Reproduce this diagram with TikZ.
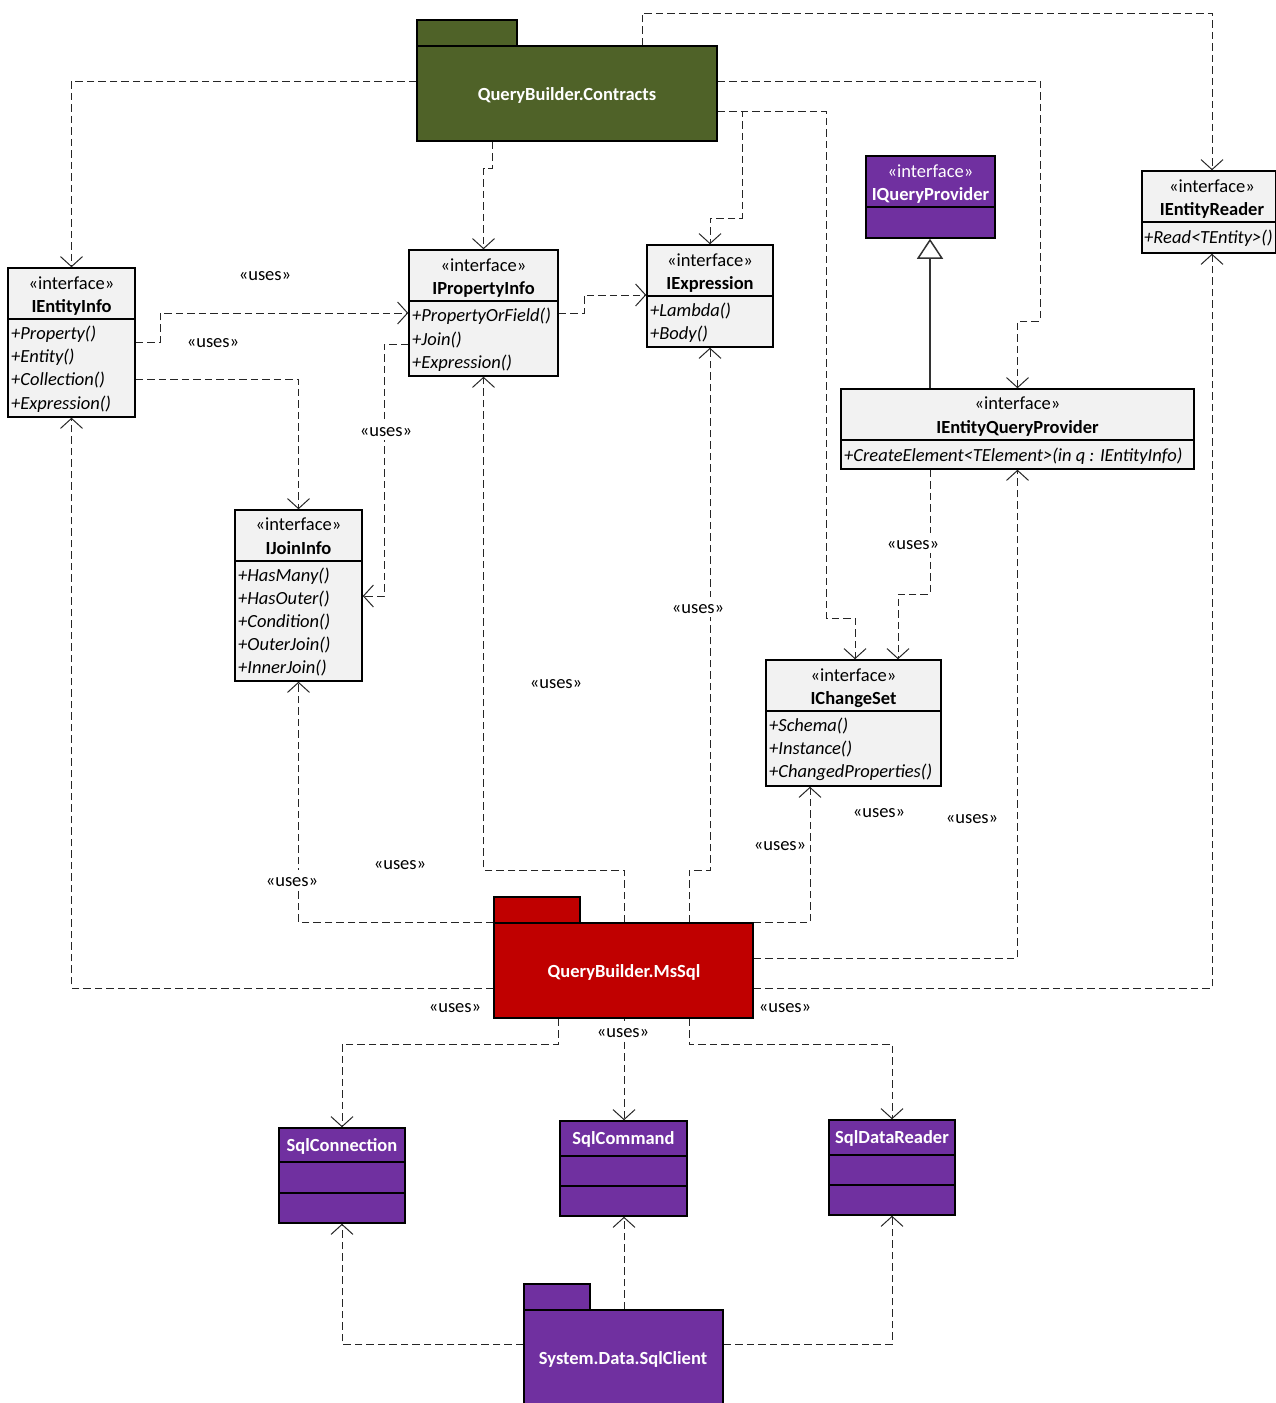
\documentclass[tikz,border=0pt]{standalone}
\usepackage{fontspec}
\setmainfont{Carlito}
\usetikzlibrary{arrows.meta}
\definecolor{pkggreen}{HTML}{4F6228}
\definecolor{pkgred}{HTML}{C00000}
\definecolor{ipurple}{HTML}{7030A0}
\definecolor{boxgrey}{HTML}{F2F2F2}
\begin{document}
\begin{tikzpicture}[x=1pt,y=-1pt,
  cbox/.style={draw=black, line width=1.5pt, fill=boxgrey, inner sep=0pt},
  pbox/.style={cbox, fill=ipurple},
  txt/.style={inner sep=0pt, text height=15.5pt, text depth=2.5pt, font=\fontsize{18.5}{22}\selectfont},
  cname/.style={txt, font=\fontsize{18.5}{22}\selectfont\bfseries},
  wname/.style={cname, text=white},
  wstereo/.style={txt, text=white},
  meth/.style={txt, anchor=west, font=\fontsize{18.5}{22}\selectfont\itshape},
  divl/.style={line width=1.5pt},
  dep/.style={draw=black!85, line width=1pt, dash pattern=on 7.5pt off 4pt, -{Straight Barb[length=10pt,width=22pt,line width=1pt]}},
  gen/.style={draw=black!80, line width=1.2pt, -{Triangle[open,length=20pt,width=26pt,fill=white,line width=1.5pt]}},
  uses/.style={txt, fill=white, inner sep=1pt}
]
\useasboundingbox (0,0) rectangle (1276,1403);

% ---------- packages ----------
\node[cbox, fill=pkggreen, minimum width=100pt, minimum height=26pt] (conttab) at (467,33) {};
\node[cbox, fill=pkggreen, minimum width=300pt, minimum height=95pt] (cont) at (567,93.5) {};
\node[wname] (contT) at (567,94) {QueryBuilder.Contracts};

\node[cbox, fill=pkgred, minimum width=86pt, minimum height=26pt] (mstab) at (537,910) {};
\node[cbox, fill=pkgred, minimum width=259pt, minimum height=95pt] (ms) at (623.5,970.5) {};
\node[wname] (msT) at (624,971) {QueryBuilder.MsSql};

\node[cbox, fill=ipurple, minimum width=66pt, minimum height=26pt] (sqltab) at (557,1297) {};
\node[cbox, fill=ipurple, minimum width=199pt, minimum height=110pt] (sql) at (623.5,1365) {};
\node[wname] (sqlT) at (623,1358) {System.Data.SqlClient};

% ---------- IEntityInfo ----------
\node[cbox, minimum width=127pt, minimum height=149pt] (ei) at (71.5,342.5) {};
\draw[divl] (ei.west |- 0,319) -- (ei.east |- 0,319);
\node[txt] (eiS) at (71.5,283) {«interface»};
\node[cname] (eiN) at (71.5,306) {IEntityInfo};
\node[meth] (eiM1) at (11,333) {+Property()};
\node[meth] (eiM2) at (11,356) {+Entity()};
\node[meth] (eiM3) at (11,379) {+Collection()};
\node[meth] (eiM4) at (11,403) {+Expression()};

% ---------- IPropertyInfo ----------
\node[cbox, minimum width=149pt, minimum height=126pt] (pi) at (483.5,313) {};
\draw[divl] (pi.west |- 0,301) -- (pi.east |- 0,301);
\node[txt] (piS) at (483.5,265) {«interface»};
\node[cname] (piN) at (483.5,288) {IPropertyInfo};
\node[meth] (piM1) at (412,315) {+PropertyOrField()};
\node[meth] (piM2) at (412,339) {+Join()};
\node[meth] (piM3) at (412,362) {+Expression()};

% ---------- IExpression ----------
\node[cbox, minimum width=126pt, minimum height=102pt] (ie) at (710,296) {};
\draw[divl] (ie.west |- 0,296) -- (ie.east |- 0,296);
\node[txt] (ieS) at (710,260) {«interface»};
\node[cname] (ieN) at (710,283) {IExpression};
\node[meth] (ieM1) at (650,310) {+Lambda()};
\node[meth] (ieM2) at (650,333) {+Body()};

% ---------- IQueryProvider ----------
\node[pbox, minimum width=129pt, minimum height=82pt] (iqp) at (930.5,197) {};
\draw[divl] (iqp.west |- 0,207) -- (iqp.east |- 0,207);
\node[wstereo] (iqpS) at (930.5,171) {«interface»};
\node[wname] (iqpN) at (930.5,194) {IQueryProvider};

% ---------- IEntityReader ----------
\node[cbox, minimum width=134pt, minimum height=82pt] (er) at (1209,212) {};
\draw[divl] (er.west |- 0,222) -- (er.east |- 0,222);
\node[txt] (erS) at (1212,186) {«interface»};
\node[cname] (erN) at (1212,209) {IEntityReader};
\node[meth] (erM1) at (1144,237) {+Read<TEntity>()};

% ---------- IEntityQueryProvider ----------
\node[cbox, minimum width=353pt, minimum height=80pt] (eqp) at (1017.5,429) {};
\draw[divl] (eqp.west |- 0,440) -- (eqp.east |- 0,440);
\node[txt] (eqpS) at (1017.5,403) {«interface»};
\node[cname] (eqpN) at (1017.5,427) {IEntityQueryProvider};
\node[meth] (eqpM1) at (844,455) {+CreateElement<TElement>(in q : IEntityInfo)};

% ---------- IJoinInfo ----------
\node[cbox, minimum width=127pt, minimum height=171pt] (ij) at (298.5,595.5) {};
\draw[divl] (ij.west |- 0,561) -- (ij.east |- 0,561);
\node[txt] (ijS) at (298.5,524) {«interface»};
\node[cname] (ijN) at (298.5,548) {IJoinInfo};
\node[meth] (ijM1) at (238,575) {+HasMany()};
\node[meth] (ijM2) at (238,598) {+HasOuter()};
\node[meth] (ijM3) at (238,621) {+Condition()};
\node[meth] (ijM4) at (238,644) {+OuterJoin()};
\node[meth] (ijM5) at (238,667) {+InnerJoin()};

% ---------- IChangeSet ----------
\node[cbox, minimum width=175pt, minimum height=126pt] (ics) at (853.5,723) {};
\draw[divl] (ics.west |- 0,711) -- (ics.east |- 0,711);
\node[txt] (icsS) at (853.5,675) {«interface»};
\node[cname] (icsN) at (853.5,698) {IChangeSet};
\node[meth] (icsM1) at (769,725) {+Schema()};
\node[meth] (icsM2) at (769,748) {+Instance()};
\node[meth] (icsM3) at (769,771) {+ChangedProperties()};

% ---------- Sql classes ----------
\node[pbox, minimum width=126pt, minimum height=95pt] (sc) at (342,1175.5) {};
\draw[divl] (sc.west |- 0,1162) -- (sc.east |- 0,1162);
\draw[divl] (sc.west |- 0,1193) -- (sc.east |- 0,1193);
\node[wname] (scN) at (342,1145) {SqlConnection};

\node[pbox, minimum width=127pt, minimum height=95pt] (scmd) at (623.5,1168.5) {};
\draw[divl] (scmd.west |- 0,1156) -- (scmd.east |- 0,1156);
\draw[divl] (scmd.west |- 0,1186) -- (scmd.east |- 0,1186);
\node[wname] (scmdN) at (623.5,1138) {SqlCommand};

\node[pbox, minimum width=126pt, minimum height=95pt] (sdr) at (892,1167.5) {};
\draw[divl] (sdr.west |- 0,1155) -- (sdr.east |- 0,1155);
\draw[divl] (sdr.west |- 0,1185) -- (sdr.east |- 0,1185);
\node[wname] (sdrN) at (892,1137) {SqlDataReader};

% ---------- connectors from Contracts ----------
\draw[dep] (cont.west |- 0,81) -| (ei.north);
\draw[dep] (cont.south -| 492,0) -- (492,168) -| (pi.north);
\draw[dep] (cont.east |- 0,111) -- (742,111) -- (742,218) -| (ie.north);
\draw[dep] (cont.east |- 0,111) -- (826,111) -- (826,618) -| (ics.north -| 855,0);
\draw[dep] (cont.east |- 0,81) -- (1040,81) -- (1040,321) -| (eqp.north);
\draw[dep] (cont.north -| 642,0) -- (642,13) -| (er.north -| 1212,0);

% ---------- other dependencies ----------
\draw[dep] (ei.east |- 0,342) -- (160,342) -- (160,313) -- (pi.west |- 0,313);
\draw[dep] (ei.east |- 0,379) -| (ij.north);
\draw[dep] (pi.west |- 0,344) -- (384,344) |- (ij.east |- 0,596);
\draw[dep] (pi.east |- 0,313) -- (584,313) |- (ie.west |- 0,295);
\draw[dep] (eqp.south -| 930,0) -- (930,594) -| (ics.north -| 898,0);
\draw[gen] (eqp.north -| 930,0) -- (iqp.south -| 930,0);

% ---------- connectors from MsSql ----------
\draw[dep] (ms.north west) -| (ij.south);
\draw[dep] (ms.west |- 0,988) -| (ei.south);
\draw[dep] (ms.north -| 624,0) -- (624,870) -| (pi.south);
\draw[dep] (ms.north -| 689,0) -- (689,870) -| (ie.south);
\draw[dep] (ms.north east) -| (ics.south -| 810,0);
\draw[dep] (ms.east |- 0,958) -| (eqp.south);
\draw[dep] (ms.east |- 0,988) -| (er.south -| 1212,0);
\draw[dep] (ms.south -| 558,0) -- (558,1044) -| (sc.north);
\draw[dep] (ms.south -| 624,0) -- (scmd.north -| 624,0);
\draw[dep] (ms.south -| 689,0) -- (689,1044) -| (sdr.north);

% ---------- connectors from SqlClient ----------
\draw[dep] (sql.west |- 0,1344) -| (sc.south);
\draw[dep] (sql.north -| 624,0) -- (scmd.south -| 624,0);
\draw[dep] (sql.east |- 0,1344) -| (sdr.south);

% ---------- labels ----------
\node[uses] (u1) at (265,274) {«uses»};
\node[uses] (u2) at (213,341) {«uses»};
\node[uses] (u3) at (386,430) {«uses»};
\node[uses] (u4) at (913,543) {«uses»};
\node[uses] (u5) at (698,607) {«uses»};
\node[uses] (u6) at (556,682) {«uses»};
\node[uses] (u7) at (879,811) {«uses»};
\node[uses] (u8) at (972,817) {«uses»};
\node[uses] (u9) at (780,844) {«uses»};
\node[uses] (u10) at (400,863) {«uses»};
\node[uses] (u11) at (292,880) {«uses»};
\node[uses] (u12) at (455,1006) {«uses»};
\node[uses] (u13) at (785,1006) {«uses»};
\node[uses] (u14) at (623,1031) {«uses»};
\end{tikzpicture}
\end{document}
